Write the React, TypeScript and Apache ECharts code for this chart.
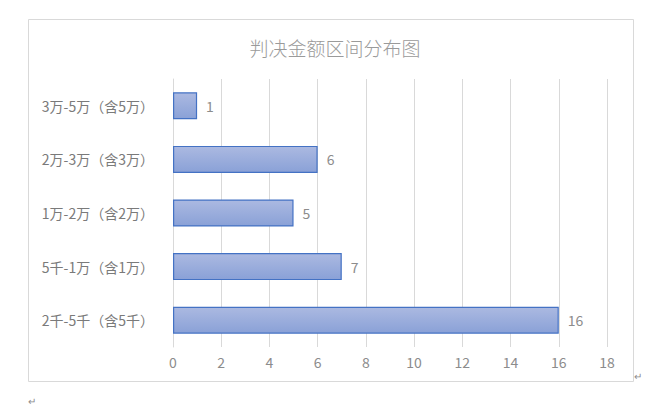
import { useEffect, useRef } from "react";
import * as echarts from "echarts";

const categories = [
  "2千-5千（含5千）",
  "5千-1万（含1万）",
  "1万-2万（含2万）",
  "2万-3万（含3万）",
  "3万-5万（含5万）",
];
const counts = [16, 7, 5, 6, 1];
const titleText = "判决金额区间分布图";

const FONT = "'Noto Sans CJK SC', 'Noto Sans', sans-serif";

const App = () => {
  const chartRef = useRef<HTMLDivElement>(null);

  useEffect(() => {
    if (!chartRef.current) {
      return;
    }
    const chart = echarts.init(chartRef.current, null, { renderer: "svg" });

    const option: echarts.EChartsOption = {
      animation: false,
      backgroundColor: "#ffffff",
      title: {
        text: titleText,
        left: 330,
        top: 33,
        textAlign: "center",
        textStyle: {
          color: "#9a9a9a",
          fontFamily: FONT,
          fontSize: 19,
          fontWeight: 300,
        },
      },
      grid: {
        left: 173,
        right: 54,
        top: 79,
        bottom: 61,
      },
      xAxis: {
        type: "value",
        min: 0,
        max: 18,
        interval: 2,
        axisLine: { show: false },
        axisTick: { show: false },
        axisLabel: {
          color: "#8c8c8c",
          fontFamily: FONT,
          fontSize: 14,
          margin: 8,
        },
        splitLine: {
          lineStyle: { color: "#d9d9d9", width: 1 },
        },
      },
      yAxis: {
        type: "category",
        data: categories,
        axisLine: {
          show: true,
          lineStyle: { color: "#d9d9d9", width: 1 },
        },
        axisTick: { show: false },
        axisLabel: {
          color: "#7a7a7a",
          fontFamily: FONT,
          fontSize: 14,
          margin: 19,
        },
      },
      series: [
        {
          type: "bar",
          data: counts,
          barWidth: 27,
          itemStyle: {
            color: new echarts.graphic.LinearGradient(0, 0, 0, 1, [
              { offset: 0, color: "#abb9e1" },
              { offset: 1, color: "#8aa1d7" },
            ]),
            borderColor: "#4472c4",
            borderWidth: 1.2,
          },
          label: {
            show: true,
            position: "right",
            distance: 9,
            color: "#8c8c8c",
            fontFamily: FONT,
            fontSize: 14,
          },
        },
      ],
      graphic: [
        {
          type: "rect",
          shape: { x: 28.5, y: 19.5, width: 605, height: 362 },
          style: { fill: "none", stroke: "#d9d9d9", lineWidth: 1 },
          silent: true,
        },
        {
          type: "text",
          x: 634,
          y: 370,
          style: { text: "↵", fill: "#8c8c8c", fontSize: 10, fontFamily: FONT },
          silent: true,
        },
        {
          type: "text",
          x: 28,
          y: 395,
          style: { text: "↵", fill: "#8c8c8c", fontSize: 10, fontFamily: FONT },
          silent: true,
        },
      ],
    };

    chart.setOption(option);

    return () => {
      chart.dispose();
    };
  }, []);

  return (
    <div
      ref={chartRef}
      style={{ position: "absolute", left: 0, top: 0, width: 661, height: 408 }}
    />
  );
};

export default App;
